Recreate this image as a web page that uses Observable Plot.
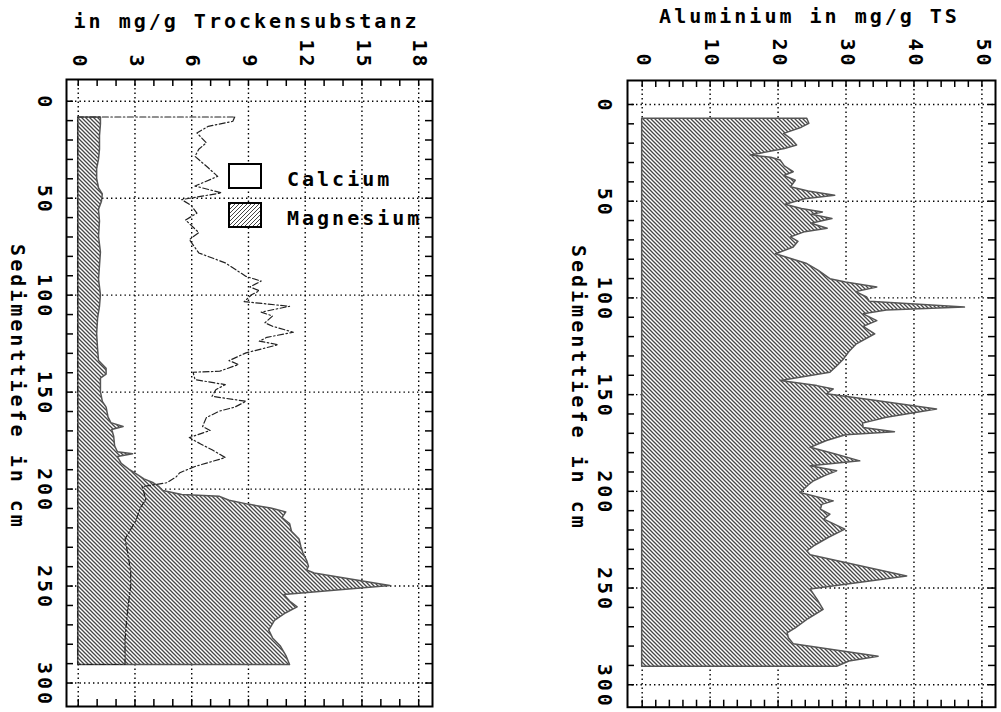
<!DOCTYPE html>
<html><head><meta charset="utf-8">
<script src="https://cdn.jsdelivr.net/npm/d3@7"></script>
<script src="https://cdn.jsdelivr.net/npm/@observablehq/plot@0.6"></script>
<style>
html,body{margin:0;padding:0;background:#fff;}
#wrap{position:relative;width:1001px;height:712px;overflow:hidden;background:#fff;
  font-family:"DejaVu Sans Mono",monospace;font-weight:bold;font-size:20px;letter-spacing:3px;color:#000;}
#left{position:absolute;left:0;top:0;}
#right{position:absolute;left:500px;top:0;}
.lbox{position:absolute;width:30px;height:22px;border:2px solid #000;background:#fff;}
.lbox.hatch{background:repeating-linear-gradient(135deg,#444 0px,#444 1.1px,#fff 1.1px,#fff 2.83px);}
.ltext{position:absolute;line-height:20px;white-space:nowrap;}
</style></head>
<body><div id="wrap"><div id="left"></div><div id="right"></div>
<div class="lbox" style="left:228px;top:163px;"></div>
<div class="ltext" style="left:287px;top:169px;">Calcium</div>
<div class="lbox hatch" style="left:228px;top:202px;"></div>
<div class="ltext" style="left:287px;top:208px;">Magnesium</div>
</div>
<script>
// ---- data ----
const leftTicks = [0, 3, 6, 9, 12, 15, 18];
const leftMinor = d3.range(0, 19, 1);
const rightTicks = [0, 10, 20, 30, 40, 50];
const rightMinor = d3.range(0, 51, 2);
const depthTicks = [0, 50, 100, 150, 200, 250, 300];
const depthMinor = d3.range(0, 301, 10);

const leftTitle = "in mg/g Trockensubstanz";
const rightTitle = "Aluminium in mg/g TS";
const depthTitle = "Sedimenttiefe in cm";

const mgDepth = [8.4,12,18,25,30,35,40,45,48,52,56,62,70,78,85,92,100,106,112,120,128,134,138,141,143,150,155,158,163,166,168,169.5,173,178,181,182,183.5,187,190,193,195,197,199,201,203,204,206,208,210,212,215,218,222,226,230,233,237,240,242,243.5,250,254.6,258,261,264,268,273,277,281,286,290.7];
const mgValue = [1.2,1.2,1.15,1.15,1.1,1.0,1.0,1.1,1.3,1.25,1.1,1.15,1.1,1.2,1.15,1.1,1.2,1.15,1.05,1.0,1.05,1.1,1.5,1.5,1.2,1.2,1.3,1.5,1.6,1.75,2.4,1.8,1.9,1.95,2.1,2.9,2.1,2.3,2.7,3.2,3.5,4.0,4.3,4.5,5.5,7.5,8.0,9.0,10.2,11.0,10.8,11.2,11.3,11.7,11.8,11.9,12.1,12.2,12.1,12.5,16.5,10.9,11.2,11.6,11.0,10.4,10.1,10.3,10.7,11.0,11.2];

const caDepth = [8.4,10.6,13.2,16.6,21.7,25,28.7,34.6,39,44,47.5,51,54,58,61.5,68,71.6,78.5,83.6,90.6,93,96,98,100,103.6,106,109,111,114.5,116.3,119.4,122,124,125.8,130,134,136,139.5,140,143.8,146.4,149,152.4,155,158,160,163.4,168,170,173.7,177,180,184,186.6,188.6,191.8,194,197,199,202,205.7,210,216,221,226,231,236.6,243,250,258,266,272,278,285,290.7];
const caValue = [8.3,8.2,6.9,6.3,6.8,6.4,6.2,6.9,7.4,6.2,7.6,5.5,6.0,6.3,5.7,6.4,5.9,6.4,7.8,8.9,9.7,9.1,9.6,9.2,8.8,11.2,9.7,10.3,9.9,10.3,11.4,10.0,9.6,10.6,8.9,8.0,8.5,7.5,6.1,6.2,7.8,7.3,7.1,8.9,8.3,7.5,6.8,6.6,7.0,5.9,6.5,7.1,7.8,6.9,6.2,5.4,5.2,4.7,3.4,3.5,3.6,3.3,3.1,2.8,2.5,2.6,2.7,2.8,2.8,2.7,2.6,2.55,2.5,2.5,2.5];

const alDepth = [7.4,10,12,15.2,18,21.2,23,26.4,27.5,29,32,35,37,39.4,42.8,45,47.2,49,51.8,54,55.8,57,59.2,61.7,64.2,66,68.7,71,73.9,77.4,82.5,86,90.3,92,94.6,97,99.8,102,105,106.5,108.5,112,115,118.8,124,128,131.8,135,138.7,143,145.6,147.3,149.8,153,157.7,162,165,167.2,169.4,171,174,177.5,181,184.5,187,189.6,192,194.8,197,200.9,205.2,207,209.5,212,214.6,219.8,224,228,231,233,244,250.8,256,261.3,266,270.8,273.4,276,279,285.5,288,290.7];
const alValue = [24.3,24.6,23.5,20.9,22.0,22.8,21.0,16.0,19.0,20.4,21.0,22.3,20.9,22.6,21.9,24.5,28.4,24.0,21.1,23.5,26.6,25.0,28.0,24.9,27.3,24.0,21.9,23.0,22.3,19.7,24.3,26.0,27.7,30.0,34.6,31.5,33.1,33.5,47.5,36.0,32.6,34.6,32.6,34.3,31.6,30.5,29.7,28.8,27.7,20.4,25.8,28.2,27.2,34.0,43.4,36.0,32.5,32.6,37.2,30.0,27.2,24.8,28.5,32.1,24.8,28.7,27.0,25.3,24.5,23.3,28.2,26.5,26.3,27.7,26.8,29.9,27.5,25.5,24.3,24.8,39.0,24.8,25.8,26.7,24.5,22.6,21.4,21.6,22.3,34.8,30.5,28.7];

const mgRows = mgDepth.map((d, i) => ({d, v: mgValue[i]}));
const caRows = caDepth.map((d, i) => ({d, v: caValue[i]}));
const alRows = alDepth.map((d, i) => ({d, v: alValue[i]}));

// ---- shared styling ----
const svgStyle = {fontFamily: "'DejaVu Sans Mono', monospace", fontSize: "20px", fontWeight: "bold",
  letterSpacing: "3px", background: "white", color: "black", overflow: "visible"};
const TL = 7;
const gridOpts = {stroke: "black", strokeOpacity: 1, strokeWidth: 1.4, strokeDasharray: "1.4,3.1"};

function hatchDefs(id) {
  return () => {
    const defs = d3.create("svg:defs");
    const p = defs.append("pattern").attr("id", id).attr("patternUnits", "userSpaceOnUse")
      .attr("width", 4).attr("height", 4);
    p.append("rect").attr("width", 4).attr("height", 4).attr("fill", "white");
    p.append("path").attr("d", "M-1,-1L5,5M-1,3L1,5M3,-1L5,1")
      .attr("stroke", "#474747").attr("stroke-width", 1.3);
    return defs.node();
  };
}

function panel({width, mL, mR, mT, mB, xDomain, yDomain, ticks, minor, hatchId, areas, tickDy, tickLabelDx, titleDy, titleDx, title, yTitleDx}) {
  const fW = width - mL - mR, fH = 712 - mT - mB;
  return Plot.plot({
    width, height: 712,
    marginLeft: mL, marginRight: mR, marginTop: mT, marginBottom: mB,
    style: svgStyle,
    x: {domain: xDomain, axis: null},
    y: {domain: yDomain, reverse: true, axis: null},
    marks: [
      Plot.gridX(ticks, gridOpts),
      Plot.gridY(depthTicks, gridOpts),
      hatchDefs(hatchId),
      ...areas,
      Plot.tickX(minor, {x: d => d, insetBottom: fH - TL, strokeWidth: 1.5}),
      Plot.tickX(minor, {x: d => d, insetTop: fH - TL, strokeWidth: 1.5}),
      Plot.tickY(depthMinor, {y: d => d, insetRight: fW - TL, strokeWidth: 1.5}),
      Plot.tickY(depthMinor, {y: d => d, insetLeft: fW - TL, strokeWidth: 1.5}),
      Plot.frame({stroke: "black", strokeWidth: 2}),
      Plot.text(ticks, {x: d => d, text: d => String(d), frameAnchor: "top", dy: tickDy, dx: 1,
        rotate: 90, textAnchor: "end", lineAnchor: "middle"}),
      Plot.text(depthTicks, {y: d => d, text: d => String(d), frameAnchor: "left", dx: tickLabelDx, dy: 1.5,
        rotate: 90, textAnchor: "middle", lineAnchor: "middle"}),
      Plot.text([title], {frameAnchor: "top", dy: titleDy, dx: titleDx, textAnchor: "middle", lineAnchor: "bottom"}),
      Plot.text([depthTitle], {frameAnchor: "left", dx: yTitleDx, dy: -6, rotate: 90, textAnchor: "middle", lineAnchor: "middle"})
    ]
  });
}

const left = panel({
  width: 440, mL: 66, mR: 8, mT: 79, mB: 6,
  xDomain: [-0.62, 18.73], yDomain: [-11.2, 312.1],
  ticks: leftTicks, minor: leftMinor, hatchId: "hatchL",
  areas: [
    Plot.areaX(mgRows, {y: "d", x1: 0, x2: "v", fill: "url(#hatchL)", stroke: "#555", strokeWidth: 1.5}),
    Plot.areaX(caRows, {y: "d", x1: 0, x2: "v", fill: "none", stroke: "#222", strokeWidth: 1.2,
      strokeDasharray: "6,2.5,1.5,2.5"})
  ],
  tickDy: -10, tickLabelDx: -22, titleDy: -52, titleDx: -3, title: leftTitle, yTitleDx: -49
});
document.getElementById("left").append(left);

const right = panel({
  width: 501, mL: 127, mR: 6, mT: 80, mB: 5.3,
  xDomain: [-2.16, 52.0], yDomain: [-12.4, 311.6],
  ticks: rightTicks, minor: rightMinor, hatchId: "hatchR",
  areas: [
    Plot.areaX(alRows, {y: "d", x1: 0, x2: "v", fill: "url(#hatchR)", stroke: "#555", strokeWidth: 1.5})
  ],
  tickDy: -12, tickLabelDx: -23, titleDy: -58, titleDx: -2, title: rightTitle, yTitleDx: -49
});
document.getElementById("right").append(right);
</script>
</body></html>
